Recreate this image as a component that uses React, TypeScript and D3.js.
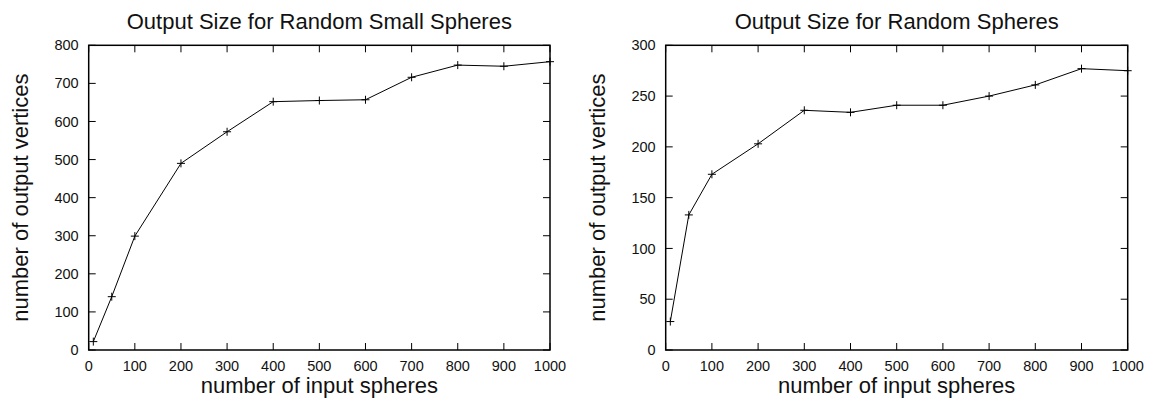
import React from "react";
import * as d3 from "d3";

const inputSpheres = [10, 50, 100, 200, 300, 400, 500, 600, 700, 800, 900, 1000];
const smallSpheresOutput = [22, 140, 299, 490, 573, 652, 655, 657, 716, 748, 745, 757];
const spheresOutput = [28, 133, 173, 203, 236, 234, 241, 241, 250, 261, 277, 275];
const xTicks = [0, 100, 200, 300, 400, 500, 600, 700, 800, 900, 1000];
const yTicksSmall = [0, 100, 200, 300, 400, 500, 600, 700, 800];
const yTicksSpheres = [0, 50, 100, 150, 200, 250, 300];

const FONT = "'Liberation Sans', Arial, Helvetica, sans-serif";

type PanelProps = {
  left: number;
  right: number;
  top: number;
  bottom: number;
  title: string;
  values: number[];
  yMax: number;
  yTicks: number[];
};

function Panel({ left, right, top, bottom, title, values, yMax, yTicks }: PanelProps) {
  const x = d3.scaleLinear().domain([0, 1000]).range([left, right]);
  const y = d3.scaleLinear().domain([0, yMax]).range([bottom, top]);
  const pts = inputSpheres.map((v, i) => [x(v), y(values[i])] as [number, number]);
  const line = d3.line()(pts) || "";
  const tl = 7;
  const cx = (left + right) / 2;
  const cy = (top + bottom) / 2;
  return (
    <g>
      <text x={cx} y={29} textAnchor="middle" fontSize={22} fontFamily={FONT} fill="#111">
        {title}
      </text>
      {xTicks.map((t) => (
        <g key={"x" + t}>
          <line x1={x(t)} x2={x(t)} y1={bottom} y2={bottom - tl} stroke="#000" strokeWidth={1} />
          <line x1={x(t)} x2={x(t)} y1={top} y2={top + tl} stroke="#000" strokeWidth={1} />
          <text x={x(t)} y={371} textAnchor="middle" fontSize={14.5} fontFamily={FONT} fill="#111">
            {t}
          </text>
        </g>
      ))}
      {yTicks.map((t) => (
        <g key={"y" + t}>
          <line x1={left} x2={left + tl} y1={y(t)} y2={y(t)} stroke="#000" strokeWidth={1} />
          <line x1={right} x2={right - tl} y1={y(t)} y2={y(t)} stroke="#000" strokeWidth={1} />
          <text x={left - 10} y={y(t)} dy="0.35em" textAnchor="end" fontSize={14.5} fontFamily={FONT} fill="#111">
            {t}
          </text>
        </g>
      ))}
      <rect x={left} y={top} width={right - left} height={bottom - top} fill="none" stroke="#000" strokeWidth={1.5} />
      <path d={line} fill="none" stroke="#000" strokeWidth={1} />
      {pts.map(([px, py], i) => (
        <g key={"p" + i}>
          <line x1={px - 4} x2={px + 4} y1={py} y2={py} stroke="#000" strokeWidth={1} />
          <line x1={px} x2={px} y1={py - 4} y2={py + 4} stroke="#000" strokeWidth={1} />
        </g>
      ))}
      <text x={cx} y={393} textAnchor="middle" fontSize={22} fontFamily={FONT} fill="#111">
        number of input spheres
      </text>
      <text
        transform={`translate(${left - 61},${cy}) rotate(-90)`}
        textAnchor="middle"
        fontSize={22}
        fontFamily={FONT}
        fill="#111"
      >
        number of output vertices
      </text>
    </g>
  );
}

export default function App() {
  return (
    <svg
      width={1154}
      height={403}
      style={{ position: "absolute", left: 0, top: 0, background: "#fff" }}
    >
      <rect x={0} y={0} width={1154} height={403} fill="#fff" />
      <Panel
        left={88.7}
        right={550}
        top={45.3}
        bottom={350}
        title="Output Size for Random Small Spheres"
        values={smallSpheresOutput}
        yMax={800}
        yTicks={yTicksSmall}
      />
      <Panel
        left={665.7}
        right={1127.7}
        top={45.3}
        bottom={350}
        title="Output Size for Random Spheres"
        values={spheresOutput}
        yMax={300}
        yTicks={yTicksSpheres}
      />
    </svg>
  );
}
